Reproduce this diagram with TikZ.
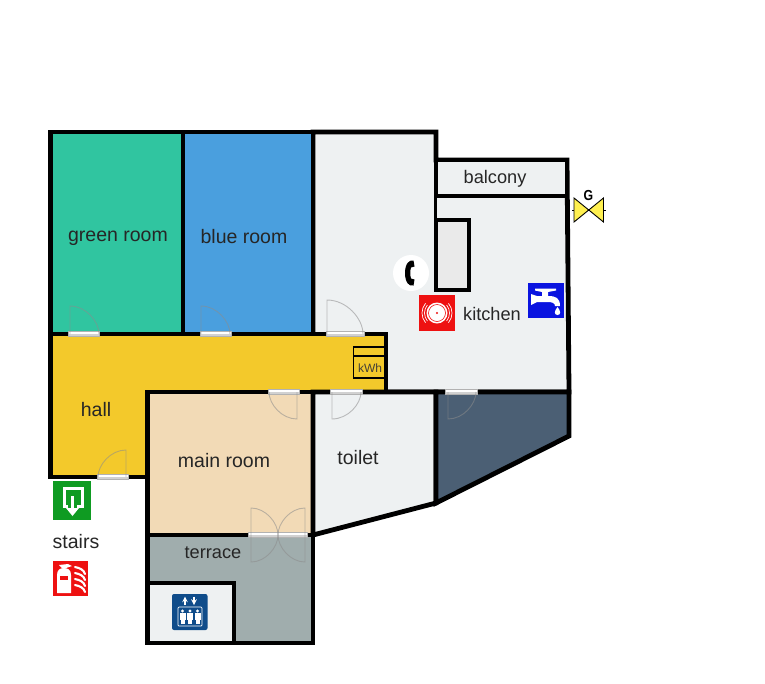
\documentclass[tikz,border=0pt]{standalone}
\usepackage{fontspec}
\setmainfont{Liberation Sans}
\usetikzlibrary{shapes.geometric}
\definecolor{cgreen}{HTML}{30C5A0}
\definecolor{cblue}{HTML}{4A9FDE}
\definecolor{cyellow}{HTML}{F3C92B}
\definecolor{cmain}{HTML}{F2DAB6}
\definecolor{clight}{HTML}{EEF1F2}
\definecolor{cdark}{HTML}{4B5F74}
\definecolor{cterr}{HTML}{A0ADAD}
\definecolor{ccup}{HTML}{EAEAEA}
\definecolor{ctext}{HTML}{262626}
\definecolor{cexit}{HTML}{0F9B22}
\definecolor{cfire}{HTML}{EE1111}
\definecolor{ctap}{HTML}{0A14E0}
\definecolor{clift}{HTML}{0F4C8A}
\definecolor{cvalve}{HTML}{FFF050}
\tikzset{
  room/.style={draw=black,line width=4.8pt,line join=miter},
  label/.style={font=\fontsize{19.5}{22}\selectfont,text=ctext,inner sep=0pt},
  labelsmall/.style={label,font=\fontsize{18.2}{20}\selectfont},
  leaf/.style={draw=black!45,draw opacity=.55,line width=.9pt},
  bar/.style={fill=white,draw=none},
  barlow/.style={fill=black!18,draw=none},
}
\newcommand{\doorbar}[3]{% x0 x1 y
  \fill[bar] (#1,#3-2.5) rectangle (#2,#3+2.5);
  \fill[barlow] (#1,#3) rectangle (#2,#3+2.5);
  \draw[draw=black!30,line width=.4pt] (#1,#3-2.5) rectangle (#2,#3+2.5);
}
% free-end offset, hinge x, wall y, leaf tip y
\newcommand{\doorleaf}[4]{%
  \draw[leaf] (#2,#3) -- (#2,#4)
     .. controls ({#2+0.55*(#1)},#4) and (#1+#2,{#3+0.45*(#4-#3)}) .. (#1+#2,#3);
}
\begin{document}
\begin{tikzpicture}[x=1pt,y=-1pt]
\useasboundingbox (0,0) rectangle (765,683);
\fill[white] (0,0) rectangle (765,683);
% room fills and walls
\draw[room,fill=clight] (313,132) -- (436,132) -- (436,160) -- (567,160) -- (569,392) -- (313,392) -- cycle;
\draw[room,fill=cgreen] (50.5,132) rectangle (183,334);
\draw[room,fill=cblue] (183,132) rectangle (313,334);
\draw[room,fill=clight] (436,160) rectangle (567,196);
\draw[room,fill=ccup] (436,220) rectangle (469,290);
\draw[draw=black,line width=3pt] (435.5,196) -- (435.5,220);
\draw[room,fill=cyellow] (50.5,334) -- (386,334) -- (386,392) -- (147.5,392) -- (147.5,477) -- (50.5,477) -- cycle;
\draw[room,fill=cmain] (147.5,392) rectangle (313,535);
\draw[room,fill=clight] (313,392) -- (436,392) -- (436,503) -- (313,535) -- cycle;
\draw[room,fill=cdark] (436,392) -- (569,392) -- (569,436) -- (436,503) -- cycle;
\draw[room,fill=cterr] (147.5,535) rectangle (313,643);
\draw[room,fill=clight] (147.5,583) rectangle (234,643);
% doors
\doorbar{68}{99}{334}
\doorleaf{29}{70}{334}{306}
\doorbar{200}{231}{334}
\doorleaf{29}{201}{334}{306}
\doorbar{326}{364}{334}
\doorleaf{36}{327}{334}{300}
\doorbar{268}{299}{392}
\doorleaf{-28}{297}{392}{419}
\doorbar{330}{362}{392}
\doorleaf{29}{332}{392}{419}
\doorbar{97}{128}{477}
\doorleaf{-28}{126}{477}{450}
\doorbar{445}{477}{392}
\doorleaf{28}{448}{392}{419}
\doorbar{248}{307}{535}
\doorleaf{27}{251}{535}{508}
\doorleaf{-27}{305}{535}{508}
\doorleaf{27}{251}{535}{562}
\doorleaf{-27}{305}{535}{562}
% kWh
\draw[draw=black,line width=1.6pt] (386,347) -- (353.5,347) -- (353.5,378) -- (386,378);
\draw[draw=black,line width=1.6pt] (353.5,356) -- (386,356);
\node[font=\fontsize{12}{14}\selectfont,text=black!85!yellow,inner sep=0pt] (kwh) at (370,368) {kWh};
% labels
\node[label] (lgreen) at (118,238.5) {green room};
\node[label] (lblue) at (244,237) {blue room};
\node[label] (lhall) at (96,410) {hall};
\node[label] (lmain) at (224,460.5) {main room};
\node[label] (ltoilet) at (358,458) {toilet};
\node[labelsmall] (lterr) at (213,552.5) {terrace};
\node[labelsmall] (lbalc) at (495,178.5) {balcony};
\node[labelsmall] (lkitch) at (492,314) {kitchen};
\node[label] (lstairs) at (76,542) {stairs};
% phone
\fill[white] (411,273) circle (18);
\fill[black] (413.5,260.5) .. controls (409,259.5) and (405,264) .. (405,273)
   .. controls (405,282) and (409,287) .. (413.5,285.5) -- (414.5,279.5) -- (411,278.5)
   .. controls (410,275) and (410,271) .. (411,267.5) -- (414.5,266.5) -- cycle;
% alarm
\fill[cfire] (419,295) rectangle (455,331);
\fill[white] (437,313) circle (10.5);
\draw[cfire,line width=.6pt] (437,313) circle (8.5);
\fill[cfire] (437,313) circle (1.2);
\foreach \r in {12.5,15}{
  \draw[white,line width=.7pt] (437,313) ++(-40:\r) arc[start angle=-40,end angle=40,radius=\r];
  \draw[white,line width=.7pt] (437,313) ++(140:\r) arc[start angle=140,end angle=220,radius=\r];
}
% tap
\fill[ctap] (528,283) rectangle (564,318);
\fill[white] (531,294) -- (537,296) -- (542,296) -- (542,292) -- (535,290.5) -- (535,288.5) -- (556,288.5) -- (556,290.5) -- (548,292) -- (548,296)
  .. controls (556,296) and (560,298) .. (560,306) -- (555,306)
  .. controls (555,303) and (552,302) .. (548,302) -- (537,302) -- (531,305) -- cycle;
\fill[white] (557.5,307) .. controls (554,311) and (554,315) .. (557.5,315) .. controls (561,315) and (561,311) .. (557.5,307) -- cycle;
% gas valve
\draw[fill=cvalve,draw=black,line width=.9pt] (574,198) -- (603.5,222) -- (603.5,198) -- (574,222) -- cycle;
\draw[black,line width=.7pt] (572,210) -- (574,210) (603.5,210) -- (606,210);
\node[font=\bfseries\fontsize{14.5}{16}\selectfont,inner sep=0pt,xscale=.85] (gasg) at (588.5,196) {G};
% exit sign
\fill[cexit] (53,481) rectangle (91,520);
\draw[white,line width=3pt] (68,506.5) -- (64,506.5) -- (64,488) -- (82,488) -- (82,506.5) -- (77,506.5);
\draw[white,line width=2.6pt] (72.5,496) -- (72.5,509);
\fill[white] (66,508) -- (79,508) -- (72.5,516) -- cycle;
% extinguisher sign
\fill[cfire] (53,561) rectangle (88,596);
\fill[white] (57,575) .. controls (57,570) and (60,568) .. (64,568) .. controls (68,568) and (71,570) .. (71,575) -- (71,593) -- (57,593) -- cycle;
\fill[white] (59,565) -- (68,564) -- (72,566) -- (66,568) -- (62,568) -- cycle;
\fill[cfire] (60,576) rectangle (68,580);
\foreach \yy in {566,572,578,584}{
  \draw[white,line width=2.1pt,line cap=round] (75,\yy+1) .. controls (80,\yy+2) and (84,\yy+4) .. (85,\yy+8);
}
% lift sign
\fill[clift,rounded corners=2pt] (172,594) rectangle (207.5,630);
\draw[white,line width=.7pt,rounded corners=1pt] (178,607) rectangle (202,626);
\draw[white,-stealth,line width=1.5pt] (185,605) -- (185,596.5);
\draw[white,-stealth,line width=1.5pt] (194,596.5) -- (194,605);
\foreach \xx in {182.5,190,197.5}{
  \fill[white] (\xx,611) circle (1.6);
  \fill[white] (\xx-3,613) rectangle (\xx+3,620);
  \fill[white] (\xx-2,620) rectangle (\xx+2,624);
}
\end{tikzpicture}
\end{document}
